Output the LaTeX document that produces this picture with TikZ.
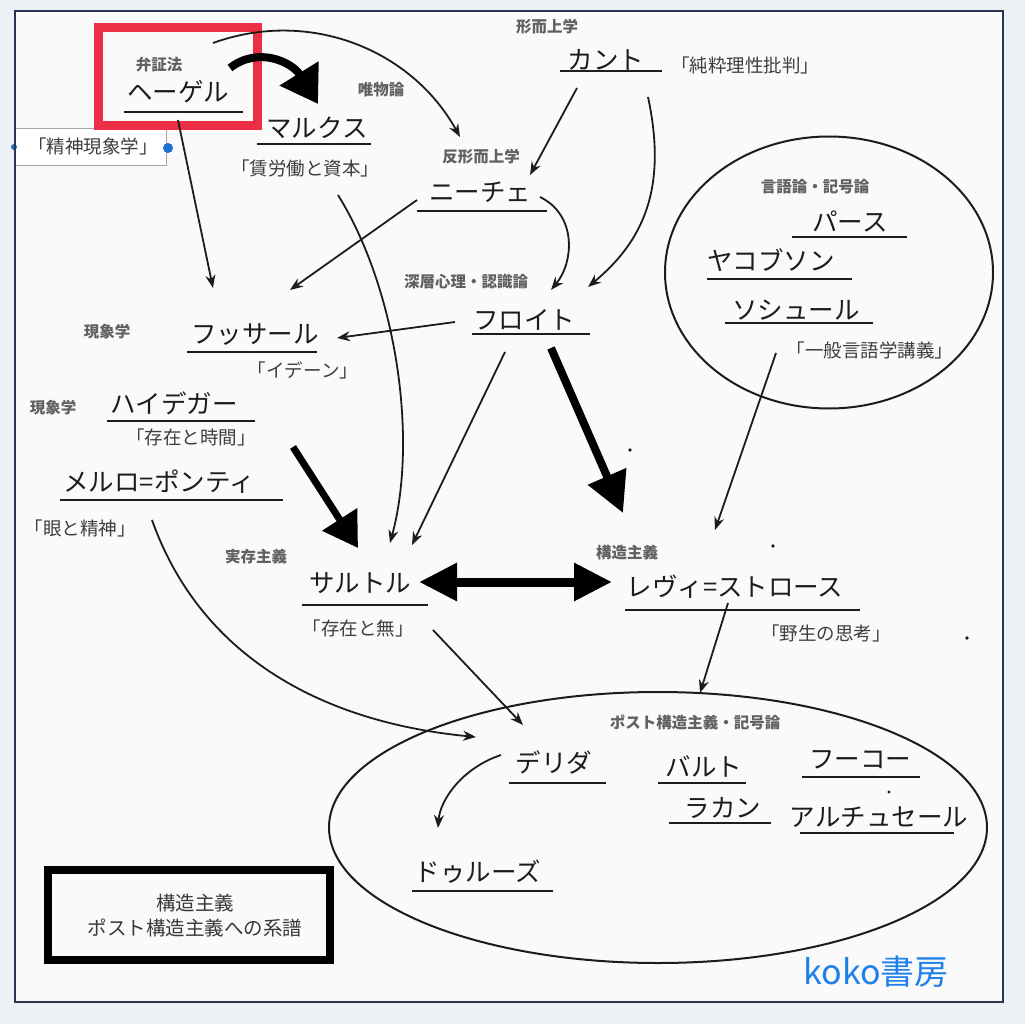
\documentclass[tikz,border=0pt]{standalone}
\usepackage{fontspec}
\setmainfont{Noto Sans CJK JP}
\usetikzlibrary{arrows.meta}
\definecolor{outbg}{HTML}{EDF1F5}
\definecolor{inbg}{HTML}{FAFAFA}
\definecolor{framec}{HTML}{2A3550}
\definecolor{redbox}{HTML}{EC2F45}
\definecolor{handle}{HTML}{1F6FD0}
\definecolor{koko}{HTML}{1E80E8}
\definecolor{ink}{HTML}{1C1C1C}
\tikzset{
  nm/.style={inner sep=0pt, text=ink, font=\fontsize{25.5}{30}\selectfont},
  ttl/.style={inner sep=0pt, text=ink!85, font=\fontsize{18.5}{22}\selectfont},
  lbl/.style={inner sep=0pt, text=black!62, font=\fontsize{15.5}{18}\selectfont\bfseries},
  uline/.style={line width=2.6pt, draw=ink},
  thin/.style={line width=1.8pt, draw=ink, -{Stealth[length=13pt,width=10pt]}},
  thickarr/.style={line width=7pt, draw=black, -{Triangle[length=34pt,width=40pt]}},
}
\begin{document}
\begin{tikzpicture}[x=1pt,y=-1pt]
\useasboundingbox (0,0) rectangle (1025,1024);
\fill[outbg] (0,0) rectangle (1025,1024);
\fill[inbg] (15,11) rectangle (1003,1002);

% ---- side box and handle
\draw[black!35, line width=1pt, fill=white] (15,129) rectangle (166,166);
\node[ttl] (phen) at (93,146) {「精神現象学」};
\fill[handle] (168,148) circle (5);
\fill[handle] (14,147) circle (3);

% ---- red highlight
\draw[redbox, line width=9pt] (98,28) rectangle (257,126);

% ---- labels
\node[lbl] (l-dial) at (159,65) {弁証法};
\node[lbl] (l-mat) at (381,90) {唯物論};
\node[lbl] (l-meta) at (547,27) {形而上学};
\node[lbl] (l-anti) at (481,157) {反形而上学};
\node[lbl] (l-deep) at (466,282) {深層心理・認識論};
\node[lbl] (l-phen1) at (107,332) {現象学};
\node[lbl] (l-phen2) at (53,408) {現象学};
\node[lbl] (l-exist) at (256,557) {実存主義};
\node[lbl] (l-struct) at (627,553) {構造主義};
\node[lbl] (l-ling) at (815,187) {言語論・記号論};
\node[lbl] (l-post) at (695,722) {ポスト構造主義・記号論};

% ---- names
\node[nm] (hegel) at (178,92) {ヘーゲル};
\draw[uline] (124,112) -- (243,112);
\node[nm] (marx) at (317,128) {マルクス};
\draw[uline] (257,144) -- (371,144);
\node[ttl] (marx-t) at (305,168) {「賃労働と資本」};
\node[nm] (kant) at (606,60) {カント};
\draw[uline] (560,71) -- (662,71);
\node[ttl] (kant-t) at (745,65) {「純粋理性批判」};
\node[nm] (nietzsche) at (480,192) {ニーチェ};
\draw[uline] (417,211) -- (547,211);
\node[nm] (freud) at (524,320) {フロイト};
\draw[uline] (472,334) -- (590,334);
\node[nm] (husserl) at (255,335) {フッサール};
\draw[uline] (187,352) -- (317,352);
\node[ttl] (husserl-t) at (303,370) {「イデーン」};
\node[nm] (heidegger) at (174,403) {ハイデガー};
\draw[uline] (107,421) -- (255,421);
\node[ttl] (heidegger-t) at (191,437) {「存在と時間」};
\node[nm] (merleau) at (159,482) {メルロ=ポンティ};
\draw[uline] (60,500) -- (283,500);
\node[ttl] (merleau-t) at (80,528) {「眼と精神」};
\node[nm] (sartre) at (360,583) {サルトル};
\draw[uline] (302,605) -- (428,605);
\node[ttl] (sartre-t) at (358,628) {「存在と無」};
\node[nm] (levi) at (735,587) {レヴィ=ストロース};
\draw[uline] (625,610) -- (860,610);
\node[ttl] (levi-t) at (826,633) {「野生の思考」};

% ---- language ellipse
\draw[line width=2pt, ink] (829,272.5) ellipse [x radius=164pt, y radius=136pt];
\node[nm] (peirce) at (850,222) {パース};
\draw[uline] (792,237) -- (907,237);
\node[nm] (jakobson) at (771,260) {ヤコブソン};
\draw[uline] (707,279) -- (852,279);
\node[nm] (saussure) at (796,310) {ソシュール};
\draw[uline] (725,323) -- (873,323);
\node[ttl] (saussure-t) at (870,350) {「一般言語学講義」};

% ---- post-structuralism ellipse
\draw[line width=2pt, ink] (658,827.5) ellipse [x radius=329pt, y radius=135.5pt];
\node[nm] (derrida) at (554,762) {デリダ};
\draw[uline] (509,783) -- (606,783);
\node[nm] (barthes) at (704,766) {バルト};
\draw[uline] (658,783) -- (746,783);
\node[nm] (lacan) at (723,808) {ラカン};
\draw[uline] (669,823) -- (771,823);
\node[nm] (foucault) at (860,760) {フーコー};
\draw[uline] (802,777) -- (920,777);
\fill[ink] (889,792) circle (1.6);
\node[nm] (althusser) at (879,817) {アルチュセール};
\draw[uline] (800,833) -- (954,833);
\node[nm] (deleuze) at (478,872) {ドゥルーズ};
\draw[uline] (412,891) -- (553,891);

% ---- stray dots
\fill[ink] (630,450) circle (1.8);
\fill[ink] (773,546) circle (1.8);
\fill[ink] (967,638) circle (1.8);

% ---- connector end points
\coordinate (hegel-a) at (230,68);
\coordinate (marx-in) at (318,104);
\coordinate (hegel-b) at (213,43);
\coordinate (nietzsche-in1) at (460,137);
\coordinate (hegel-c) at (178,120);
\coordinate (husserl-in1) at (213,288);
\coordinate (kant-a) at (577,88);
\coordinate (nietzsche-in2) at (530,175);
\coordinate (kant-b) at (648,97);
\coordinate (freud-in1) at (588,287);
\coordinate (nietzsche-a) at (540,197);
\coordinate (freud-in2) at (551,290);
\coordinate (nietzsche-b) at (417,200);
\coordinate (husserl-in2) at (290,290);
\coordinate (freud-a) at (455,322);
\coordinate (husserl-in3) at (337,338);
\coordinate (marx-a) at (338,195);
\coordinate (sartre-in1) at (390,543);
\coordinate (freud-b) at (505,352);
\coordinate (sartre-in2) at (412,545);
\coordinate (heidegger-a) at (293,447);
\coordinate (sartre-in3) at (358,548);
\coordinate (freud-c) at (551,348);
\coordinate (levi-in1) at (623,513);
\coordinate (sartre-r) at (419,582);
\coordinate (levi-l) at (612,582);
\coordinate (saussure-a) at (776,353);
\coordinate (levi-in2) at (715,530);
\coordinate (levi-a) at (728,603);
\coordinate (post-in1) at (700,693);
\coordinate (sartre-a) at (433,630);
\coordinate (derrida-in1) at (523,725);
\coordinate (merleau-a) at (152,520);
\coordinate (derrida-in2) at (476,737);
\coordinate (derrida-a) at (501,755);
\coordinate (deleuze-in) at (438,828);

% ---- connectors
\draw[line width=8pt, -{Triangle[length=36pt,width=44pt]}]
  (hegel-a) .. controls (258,46) and (292,62) .. (marx-in);
\draw[thin] (hegel-b) .. controls (310,8) and (412,50) .. (nietzsche-in1);
\draw[thin] (hegel-c) -- (husserl-in1);
\draw[thin] (kant-a) -- (nietzsche-in2);
\draw[thin] (kant-b) .. controls (668,190) and (642,242) .. (freud-in1);
\draw[thin] (nietzsche-a) .. controls (577,215) and (574,262) .. (freud-in2);
\draw[thin] (nietzsche-b) -- (husserl-in2);
\draw[thin] (freud-a) -- (husserl-in3);
\draw[thin] (marx-a) .. controls (397,290) and (418,440) .. (sartre-in1);
\draw[thin] (freud-b) -- (sartre-in2);
\draw[thickarr] (heidegger-a) -- (sartre-in3);
\draw[line width=8pt, -{Triangle[length=40pt,width=40pt]}] (freud-c) -- (levi-in1);
\draw[line width=9pt, {Triangle[length=38pt,width=36pt]}-{Triangle[length=38pt,width=36pt]}] (sartre-r) -- (levi-l);
\draw[thin] (saussure-a) -- (levi-in2);
\draw[thin] (levi-a) -- (post-in1);
\draw[thin] (sartre-a) -- (derrida-in1);
\draw[thin] (merleau-a) .. controls (200,655) and (320,722) .. (derrida-in2);
\draw[thin] (derrida-a) .. controls (462,768) and (440,800) .. (deleuze-in);

% ---- legend box
\draw[line width=8pt, black] (48,870) rectangle (330,960);
\node[inner sep=0pt, text=black!78, font=\fontsize{19.5}{25}\selectfont, align=center] (legend) at (195,916) {構造主義\\ポスト構造主義への系譜};

% ---- signature
\node[inner sep=0pt, text=koko, font=\fontsize{34}{38}\selectfont] (sig) at (876,972) {koko書房};

% ---- frame border
\draw[framec, line width=2.6pt] (15,11) rectangle (1003,1002);
\end{tikzpicture}
\end{document}
